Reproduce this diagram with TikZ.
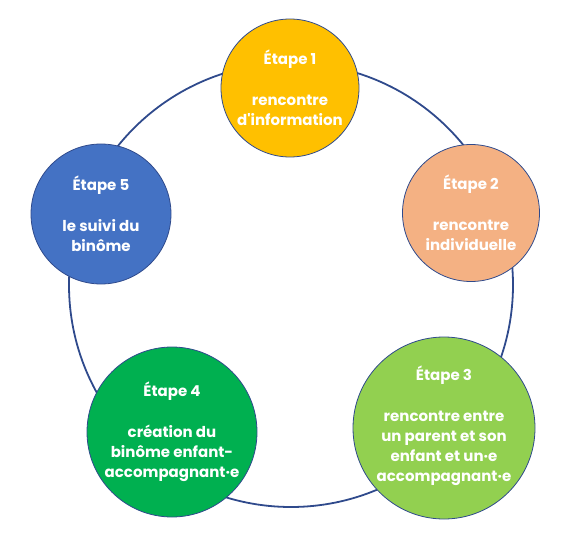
\documentclass[tikz,border=0pt]{standalone}
\usepackage{fontspec}
\setmainfont{Poppins}
\usepackage{tikz}
\usetikzlibrary{positioning}
\definecolor{anneau}{HTML}{2F4A8C}
\definecolor{jaune}{HTML}{FFC000}
\definecolor{saumon}{HTML}{F4B183}
\definecolor{vertclair}{HTML}{92D050}
\definecolor{vert}{HTML}{00B050}
\definecolor{bleu}{HTML}{4472C4}
\tikzset{
  etape/.style={circle,draw=anneau,line width=0.8pt,inner sep=0pt},
  texte/.style={align=center,inner sep=0pt,text=white,
    font=\fontsize{15}{20.2}\selectfont\bfseries}
}
\begin{document}
\begin{tikzpicture}[x=1pt,y=-1pt]
            \useasboundingbox (0,0) rectangle (575,548);
            \draw [anneau,line width=1.8pt] (291,285) circle (222);
            \node [etape,fill=jaune,minimum size=138pt] (e1) at (290,88) {};
            \node [etape,fill=saumon,minimum size=137pt] (e2) at (471,213) {};
            \node [etape,fill=vertclair,minimum size=182pt] (e3) at (444,428) {};
            \node [etape,fill=vert,minimum size=170pt] (e4) at (172,432) {};
            \node [etape,fill=bleu,minimum size=140pt] (e5) at (101,214) {};
            \node [texte] (t1) at (e1) {Étape 1\\[20.2pt]rencontre\\d\textquotesingle information};
            \node [texte] (t2) at (e2) {Étape 2\\[20.2pt]rencontre\\individuelle};
            \node [texte] (t3) at ([yshift=2pt]e3) {Étape 3\\[20.2pt]rencontre entre\\un parent et son\\enfant et un·e\\accompagnant·e};
            \node [texte] (t4) at (e4) {Étape 4\\[20.2pt]création du\\binôme enfant-\\accompagnant·e};
            \node [texte] (t5) at (e5) {Étape 5\\[20.2pt]le suivi du\\binôme};
        \end{tikzpicture}
\end{document}
